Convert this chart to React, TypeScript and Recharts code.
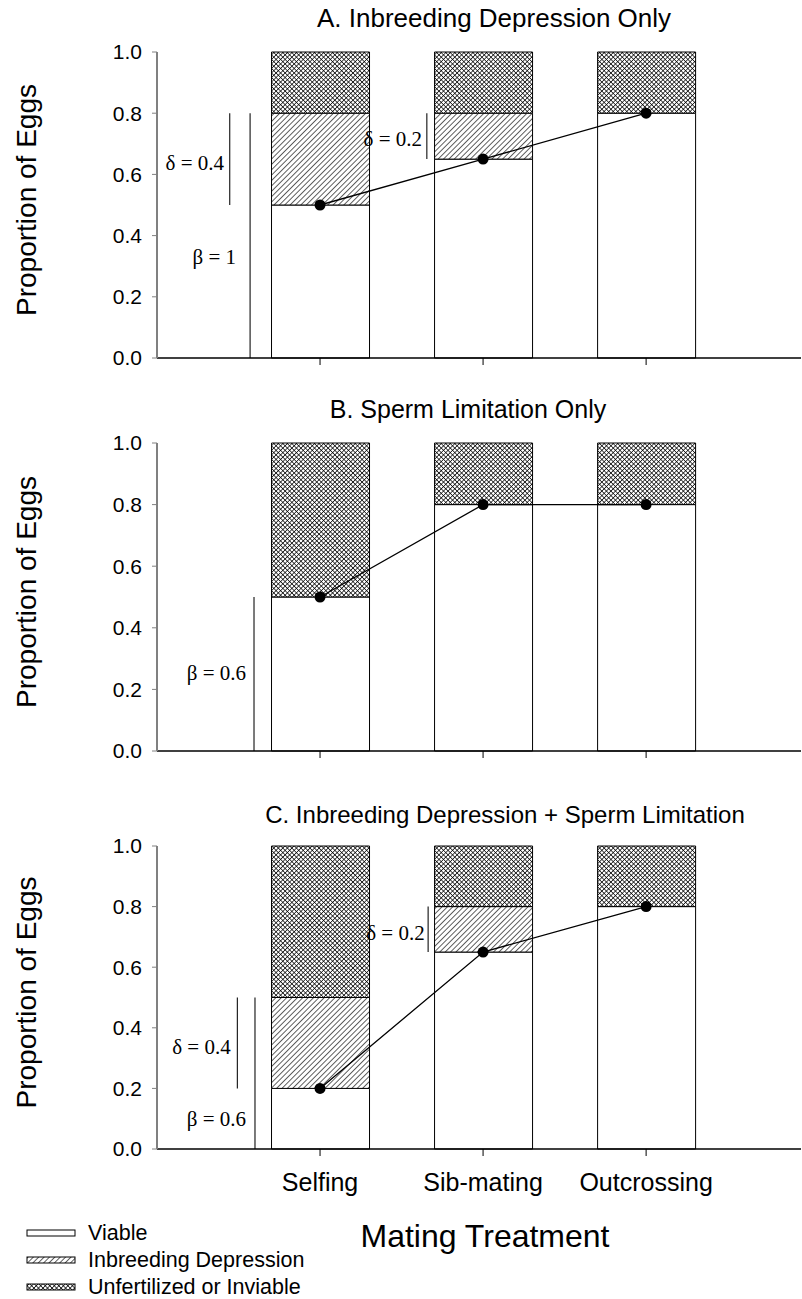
import React from 'react';
import { ComposedChart, Bar, Line, XAxis, YAxis, ReferenceLine, ReferenceDot } from 'recharts';

const categories = ['Selfing', 'Sib-mating', 'Outcrossing'];
const positions = [1, 2, 3];
const yTicks = [0, 0.2, 0.4, 0.6, 0.8, 1.0];

const viableA = [0.5, 0.65, 0.8];
const inbreedingA = [0.3, 0.15, 0];
const unfertA = [0.2, 0.2, 0.2];

const viableB = [0.5, 0.8, 0.8];
const inbreedingB = [0, 0, 0];
const unfertB = [0.5, 0.2, 0.2];

const viableC = [0.2, 0.65, 0.8];
const inbreedingC = [0.3, 0.15, 0];
const unfertC = [0.5, 0.2, 0.2];

const titleA = 'A. Inbreeding Depression Only';
const titleB = 'B. Sperm Limitation Only';
const titleC = 'C. Inbreeding Depression + Sperm Limitation';

const linesA = [
  { x: 0.446, y1: 0.5, y2: 0.8 },
  { x: 0.571, y1: 0, y2: 0.8 },
  { x: 1.655, y1: 0.65, y2: 0.8 },
];
const textsA = [
  { x: 0.411, y: 0.613, text: 'δ = 0.4' },
  { x: 0.485, y: 0.308, text: 'β = 1' },
  { x: 1.626, y: 0.692, text: 'δ = 0.2' },
];
const linesB = [{ x: 0.595, y1: 0, y2: 0.5 }];
const textsB = [{ x: 0.546, y: 0.23, text: 'β = 0.6' }];
const linesC = [
  { x: 0.493, y1: 0.2, y2: 0.5 },
  { x: 0.601, y1: 0, y2: 0.5 },
  { x: 1.663, y1: 0.65, y2: 0.8 },
];
const textsC = [
  { x: 0.452, y: 0.314, text: 'δ = 0.4' },
  { x: 0.546, y: 0.077, text: 'β = 0.6' },
  { x: 1.642, y: 0.69, text: 'δ = 0.2' },
];

const legendItems = ['Viable', 'Inbreeding Depression', 'Unfertilized or Inviable'];
const legendFills = ['#ffffff', 'url(#hatchL)', 'url(#crossL)'];

const SANS = '"Liberation Sans", Arial, sans-serif';
const SERIF = '"Liberation Serif", "Times New Roman", serif';

function Patterns({ id }: { id: string }) {
  return (
    <defs>
      <pattern id={`hatch${id}`} patternUnits="userSpaceOnUse" width="3.8" height="3.8" patternTransform="rotate(45)">
        <rect width="3.8" height="3.8" fill="#fff" />
        <line x1="0" y1="0" x2="0" y2="3.8" stroke="#000" strokeWidth="1.25" />
      </pattern>
      <pattern id={`cross${id}`} patternUnits="userSpaceOnUse" width="3.2" height="3.2" patternTransform="rotate(45)">
        <rect width="3.2" height="3.2" fill="#fff" />
        <line x1="0" y1="0" x2="0" y2="3.2" stroke="#000" strokeWidth="1.4" />
        <line x1="0" y1="0" x2="3.2" y2="0" stroke="#000" strokeWidth="1.4" />
      </pattern>
    </defs>
  );
}

type Ln = { x: number; y1: number; y2: number };
type Tx = { x: number; y: number; text: string };

function Panel(props: {
  id: string;
  top: number;
  height: number;
  marginTop: number;
  marginBottom: number;
  xAxisHeight: number;
  viable: number[];
  inbreeding: number[];
  unfert: number[];
  lines: Ln[];
  texts: Tx[];
  showLabels: boolean;
}) {
  const data = positions.map((x, i) => ({
    x,
    name: categories[i],
    viable: props.viable[i],
    inbreeding: props.inbreeding[i],
    unfert: props.unfert[i],
  }));
  const id = props.id;
  return (
    <div style={{ position: 'absolute', left: 0, top: props.top, width: 802, height: props.height }}>
      <ComposedChart
        width={802}
        height={props.height}
        data={data}
        margin={{ top: props.marginTop, right: 1, bottom: props.marginBottom, left: 0 }}
      >
        <Patterns id={id} />
        <XAxis
          type="number"
          dataKey="x"
          domain={[0, 3.95]}
          ticks={positions}
          allowDataOverflow
          height={props.xAxisHeight}
          tickFormatter={(v: number) => (props.showLabels ? categories[v - 1] : '')}
          axisLine={{ stroke: '#000', strokeWidth: 1.5 }}
          tickLine={{ stroke: '#000', strokeWidth: 1 }}
          tickSize={7}
          tickMargin={17}
          tick={{ fill: '#000', fontSize: 25, fontFamily: SANS }}
          label={
            props.showLabels
              ? (p: any) => {
                  const vb = p.viewBox || {};
                  return (
                    <text x={485} y={(vb.y || 0) + 98} textAnchor="middle" fontSize={32} fontFamily={SANS} fill="#000">
                      Mating Treatment
                    </text>
                  );
                }
              : undefined
          }
        />
        <YAxis
          type="number"
          domain={[0, 1]}
          ticks={yTicks}
          width={157}
          tickFormatter={(v: number) => v.toFixed(1)}
          axisLine={{ stroke: '#808080', strokeWidth: 2 }}
          tickLine={{ stroke: '#808080', strokeWidth: 1 }}
          tickSize={5}
          tickMargin={10}
          tick={{ fill: '#000', fontSize: 21, fontFamily: SANS }}
          label={(p: any) => {
            const vb = p.viewBox || {};
            const cy = (vb.y || 0) + (vb.height || 0) / 2 - 5;
            return (
              <text
                transform={`translate(36, ${cy}) rotate(-90)`}
                textAnchor="middle"
                fontSize={28}
                fontFamily={SANS}
                fill="#000"
              >
                Proportion of Eggs
              </text>
            );
          }}
        />
        <Bar dataKey="viable" stackId="s" fill="#ffffff" stroke="#000" strokeWidth={1} barSize={98} isAnimationActive={false} />
        <Bar dataKey="inbreeding" stackId="s" fill={`url(#hatch${id})`} stroke="#000" strokeWidth={1} barSize={98} isAnimationActive={false} />
        <Bar dataKey="unfert" stackId="s" fill={`url(#cross${id})`} stroke="#000" strokeWidth={1} barSize={98} isAnimationActive={false} />
        {props.lines.map((l, i) => (
          <ReferenceLine
            key={`l${i}`}
            segment={[{ x: l.x, y: l.y1 }, { x: l.x, y: l.y2 }]}
            stroke="#222"
            strokeWidth={1.2}
          />
        ))}
        {props.texts.map((t, i) => (
          <ReferenceDot
            key={`t${i}`}
            x={t.x}
            y={t.y}
            r={0}
            shape={(p: any) => (
              <text x={p.cx} y={p.cy} textAnchor="end" fontSize={21} fontFamily={SERIF} fill="#000">
                {t.text}
              </text>
            )}
          />
        ))}
        <Line
          dataKey="viable"
          type="linear"
          stroke="#000"
          strokeWidth={1.3}
          dot={{ r: 5.5, fill: '#000', stroke: '#000', strokeWidth: 0 }}
          activeDot={false}
          isAnimationActive={false}
        />
      </ComposedChart>
    </div>
  );
}

export default function App() {
  return (
    <div style={{ position: 'absolute', left: 0, top: 0, width: 802, height: 1299, background: '#fff', fontFamily: SANS }}>
      <Panel id="A" top={0} height={400} marginTop={52} marginBottom={12} xAxisHeight={30}
        viable={viableA} inbreeding={inbreedingA} unfert={unfertA} lines={linesA} texts={textsA} showLabels={false} />
      <Panel id="B" top={400} height={400} marginTop={43} marginBottom={19} xAxisHeight={30}
        viable={viableB} inbreeding={inbreedingB} unfert={unfertB} lines={linesB} texts={textsB} showLabels={false} />
      <Panel id="C" top={800} height={499} marginTop={46} marginBottom={50} xAxisHeight={100}
        viable={viableC} inbreeding={inbreedingC} unfert={unfertC} lines={linesC} texts={textsC} showLabels={true} />
      <svg width={802} height={1299} style={{ position: 'absolute', left: 0, top: 0, pointerEvents: 'none' }}>
        <Patterns id="L" />
        <text x={494} y={27} textAnchor="middle" fontSize={26} fontFamily={SANS} fill="#000">{titleA}</text>
        <text x={468} y={418} textAnchor="middle" fontSize={25} fontFamily={SANS} fill="#000">{titleB}</text>
        <text x={505} y={823} textAnchor="middle" fontSize={24} fontFamily={SANS} fill="#000">{titleC}</text>
        {legendItems.map((name, i) => (
          <g key={name}>
            <rect x={27} y={1230 + i * 27} width={48} height={6} fill={legendFills[i]} stroke="#000" strokeWidth={1} />
            <text x={88} y={1240 + i * 27} fontSize={21.5} fontFamily={SANS} fill="#000">{name}</text>
          </g>
        ))}
      </svg>
    </div>
  );
}
